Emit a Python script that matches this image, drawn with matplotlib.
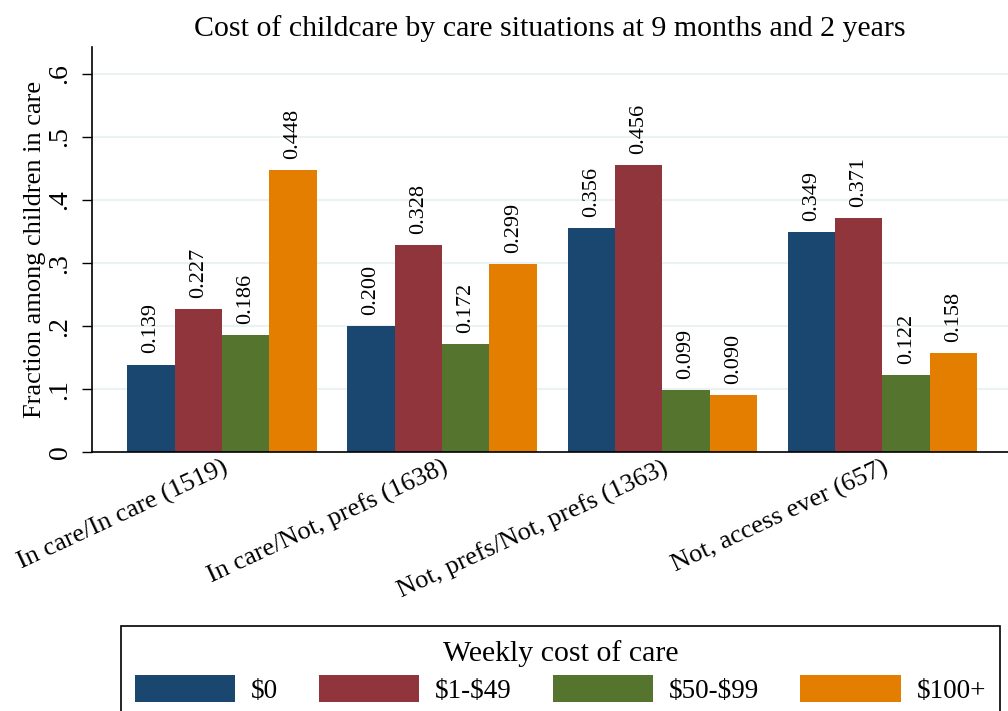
import matplotlib
matplotlib.use("Agg")
import matplotlib.pyplot as plt
import numpy as np

plt.rcParams['font.family'] = ['Liberation Serif', 'DejaVu Serif']

# data
groups = ["In care/In care (1519)", "In care/Not, prefs (1638)",
          "Not, prefs/Not, prefs (1363)", "Not, access ever (657)"]
cost_labels = [r"\$0", r"\$1-\$49", r"\$50-\$99", r"\$100+"]
cost_0 = [0.139, 0.200, 0.356, 0.349]
cost_1_49 = [0.227, 0.328, 0.456, 0.371]
cost_50_99 = [0.186, 0.172, 0.099, 0.122]
cost_100 = [0.448, 0.299, 0.090, 0.158]
yticks = [0, 0.1, 0.2, 0.3, 0.4, 0.5, 0.6]
ytick_labels = ["0", ".1", ".2", ".3", ".4", ".5", ".6"]

colors = ["#1a476f", "#90353b", "#55752f", "#e37e00"]
series = [cost_0, cost_1_49, cost_50_99, cost_100]

fig = plt.figure(figsize=(10.08, 7.11), dpi=100)
ax = fig.add_axes([0.0913, 0.364, 0.9087, 0.57])

x = np.arange(len(groups))
width = 0.215
for i, (vals, col, lab) in enumerate(zip(series, colors, cost_labels)):
    pos = x + (i - 1.5) * width
    bars = ax.bar(pos, vals, width, color=col, label=lab, zorder=2)
    for b, v in zip(bars, vals):
        ax.annotate(f"{v:.3f}", (b.get_x() + b.get_width() / 2, v),
                    xytext=(0, 8), textcoords="offset points",
                    rotation=90, ha="center", va="bottom", fontsize=16)

ax.set_xlim(-0.59, 3.57)
ax.set_ylim(0, 0.643)
ax.set_yticks(yticks)
ax.set_yticklabels(ytick_labels, rotation=90, va="center", fontsize=20)
ax.set_ylabel("Fraction among children in care", fontsize=19, labelpad=1)
ax.set_xticks(x)
ax.set_xticklabels(groups, rotation=25, ha="right", rotation_mode="anchor", fontsize=19)
ax.tick_params(axis="x", length=0, pad=3)
ax.tick_params(axis="y", length=7, width=1, pad=7)
ax.grid(axis="y", color="#eaf2f3", linewidth=1.5, zorder=0)
ax.set_axisbelow(True)
for s in ["top", "right"]:
    ax.spines[s].set_visible(False)
ax.spines["left"].set_linewidth(1.2)
ax.spines["bottom"].set_linewidth(1.2)

ax.set_title("Cost of childcare by care situations at 9 months and 2 years",
             fontsize=21.5, pad=8)

leg = fig.legend(loc="upper left", bbox_to_anchor=(0.12, -0.05, 0.872, 0.1695),
                 mode="expand", ncol=4, fontsize=19.5, title="Weekly cost of care",
                 title_fontsize=21.5, handlelength=3.7, handleheight=1.2,
                 handletextpad=0.6, fancybox=False, edgecolor="black",
                 framealpha=1, borderpad=0.5, borderaxespad=0,
                 labelspacing=0.3)
leg.get_frame().set_linewidth(1.2)

fig.savefig("out.png", dpi=100)
